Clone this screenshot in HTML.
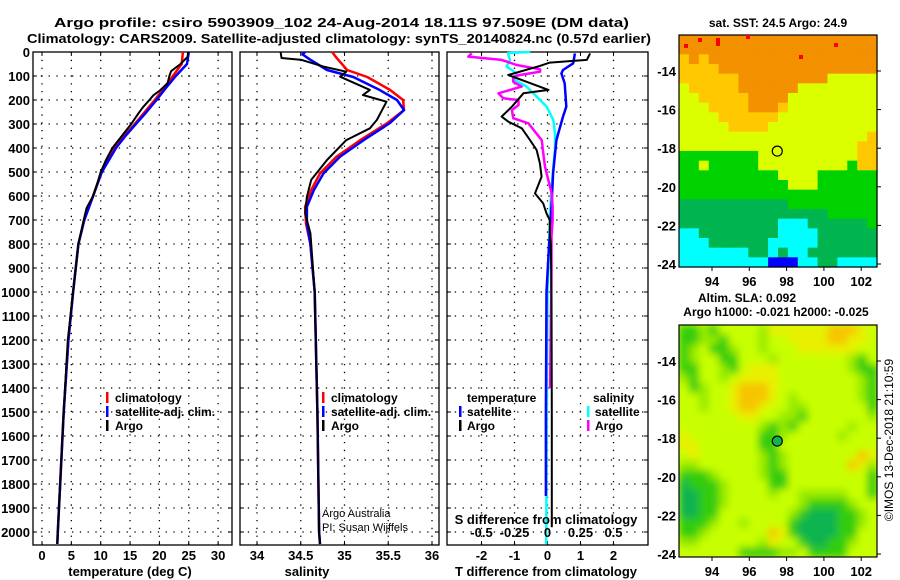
<!DOCTYPE html>
<html><head><meta charset="utf-8">
<style>
html,body{margin:0;padding:0;background:#fff;}
svg{display:block;font-family:"Liberation Sans",sans-serif;}
.b{font-weight:bold;font-size:13px;}
</style></head>
<body>
<svg id="chart" width="900" height="580" viewBox="0 0 900 580" xmlns="http://www.w3.org/2000/svg">
<defs>
<filter id="blur" x="-5%" y="-5%" width="110%" height="110%"><feGaussianBlur stdDeviation="4"/></filter>
<clipPath id="slaclip"><rect x="679" y="325" width="198" height="232"/></clipPath>
</defs>
<rect width="900" height="580" fill="#fff"/>
<text x="54" y="27" class="b" font-size="14" textLength="575" lengthAdjust="spacingAndGlyphs">Argo profile: csiro 5903909_102 24-Aug-2014 18.11S 97.509E (DM data)</text>
<text x="27" y="43" class="b" font-size="14" textLength="624" lengthAdjust="spacingAndGlyphs">Climatology: CARS2009. Satellite-adjusted climatology: synTS_20140824.nc (0.57d earlier)</text>
<g id="panels"></g>
<g id="maps"></g>
<text x="322" y="517" font-size="11">Argo Australia</text>
<text x="322" y="531" font-size="11">PI: Susan Wijffels</text>
<text transform="translate(893,440) rotate(-90)" text-anchor="middle" font-size="12">©IMOS 13-Dec-2018 21:10:59</text>
</svg>
<script>
// ---------- data ----------
const depthTicks=[0,100,200,300,400,500,600,700,800,900,1000,1100,1200,1300,1400,1500,1600,1700,1800,1900,2000];
const tempTicks=[0,5,10,15,20,25,30];
const salTicks=[34,34.5,35,35.5,36];
const salTickLabels=["34","34.5","35","35.5","36"];
const tdiffTicks=[-2,-1,0,1,2];
const sdiffTicks=[-0.5,-0.25,0,0.25,0.5];
const sdiffTickLabels=["-0.5","-0.25","0","0.25","0.5"];

const tClimDepth=[0,50,100,150,200,250,300,350,400,500,600,700,800,1000,1200,1500,2000,2050];
const tClimVal=[24.0,23.8,22.3,20.8,19.2,17.5,15.8,14.0,12.4,10.1,8.7,7.2,6.2,5.3,4.5,3.7,2.7,2.6];
const tSatDepth=[0,50,100,150,200,250,300,350,400,500,600,700,800,1000,1200,1500,2000,2050];
const tSatVal=[25.0,24.7,22.8,21.1,19.5,17.8,16.0,14.2,12.6,10.2,8.7,7.2,6.2,5.3,4.5,3.7,2.7,2.6];
const tArgoDepth=[0,20,50,80,100,130,160,180,200,230,260,300,350,400,450,500,550,600,650,700,800,1000,1200,1500,2000,2050];
const tArgoVal=[24.9,24.8,23.6,22.0,21.7,21.4,20.1,19.0,18.3,17.2,16.3,15.2,13.6,12.0,10.9,10.0,9.4,8.7,7.6,7.1,6.2,5.3,4.4,3.7,2.7,2.6];

const sClimDepth=[0,20,75,104,158,200,242,296,367,436,506,575,645,715,800,1000,1500,2000,2050];
const sClimVal=[34.86,34.9,35.03,35.26,35.52,35.67,35.68,35.49,35.18,34.91,34.72,34.62,34.55,34.56,34.61,34.66,34.69,34.71,34.72];
const sSatDepth=[0,10,30,75,104,158,200,242,296,367,436,506,575,645,715,800,1000,1500,2000,2050];
const sSatVal=[34.55,34.52,34.6,34.8,35.1,35.4,35.6,35.68,35.52,35.22,34.95,34.76,34.65,34.57,34.57,34.61,34.66,34.69,34.71,34.72];
const sArgoDepth=[0,25,33,61,82,103,158,179,207,283,318,367,450,533,603,672,755,800,1000,1500,2000,2050];
const sArgoVal=[34.27,34.28,34.51,34.76,35.02,34.95,35.29,35.21,35.48,35.37,35.29,35.02,34.80,34.62,34.57,34.55,34.61,34.62,34.66,34.69,34.71,34.72];

const dtSatDepth=[6,47,75,89,131,228,269,367,506,644,769,800,1000,1500,1850];
const dtSatVal=[0.83,0.78,0.47,0.42,0.52,0.57,0.47,0.27,0.17,0.12,0.07,0.05,-0.03,-0.05,-0.05];
const dtArgoDepth=[6,33,44,58,96,158,172,228,269,290,318,367,408,464,519,589,631,672,700,756,800,1000,1500,1980];
const dtArgoVal=[1.29,1.19,0.07,-0.23,-1.19,0.03,-0.73,-1.08,-1.39,-1.19,-0.78,-0.53,-0.33,-0.23,-0.18,-0.38,-0.13,-0.03,0.07,0.07,0.1,0.12,0.13,0.13];
const dsSatDepth=[0,4,33,61,89,117,144,186,228,283,339,408,478,561,672,769,1000,1500,2050];
const dsSatVal=[-0.13,-0.3,-0.284,-0.31,-0.233,-0.246,-0.158,-0.082,-0.006,0.044,0.057,0.057,0.044,0.032,0.019,0.014,0.0,-0.005,-0.01];
const dsArgoDepth=[6,19,33,54,72,82,89,96,103,124,144,172,193,200,221,242,276,297,332,367,422,478,533,589,644,700,769,900,1400];
const dsArgoVal=[-0.575,-0.6,-0.347,-0.233,-0.056,-0.056,-0.133,-0.21,-0.26,-0.26,-0.196,-0.372,-0.335,-0.22,-0.22,-0.27,-0.26,-0.145,-0.095,-0.044,-0.032,-0.019,0.006,0.032,0.039,0.039,0.03,0.03,0.02];

// maps
const lonTicks=[94,96,98,100,102];
const latTicks=[-14,-16,-18,-20,-22,-24];
const argoLon=97.5, argoLat=-18.15;
const sstGrid=[
"OOOOOOOOOOOOOOOOOOOO","OOOOOOOOOOOOOOOOOOOO","YOYOOOOOOOOOOOOOOOOO","YYYYOOOOOOOOOOOOOOOO",
"YYYYYYOOOOOOOOOLLLLL","LYYYYYOOOOOOLLLLLLLL","LLYYYYYOOOOLLLLLLLLL","LLLYYYYOOOYLLLLLLLLL",
"LLLLYYYYYYLLLLLLLLLL","LLLLLYYYYLLLLLLLLLLL","LLLLLLLLLLLLLLLLLLLY","LLLLLLLLLLLLLLLLLLYY",
"GGGGGGGGLLLLLLLLLLYY","GGLGGGGGLLLLLLLLLGYY","GGGGGGGGGGLLLLGGGGGG","GGGGGGGGGGGLLLGGGGGG",
"GGGGGGGGGGGGGGGGGGGG","DDDDDDDDDDDGGGGGGGGG","DDDDDDDDDDDDDDDGGGGG","DDDDDDDDDDCCCDDDDDDG",
"CCDDDDDDDDCCCCDDDDDD","CCCDDDDDDCCCCCDDDDDD","CCCCCCCDDCDCCDDDDDDD","CCCCCCCCCBBBCCDDCCCC"];
const slaGrid=[
"GGMGLLLLMYYYYYYOOOYL","GGMMGLLLMLLYYYYOOYYL","GMLGGMLLMLLLYYYYYYLL","GMLLGGLLLMLLLLLLLMGL",
"GGLLMGLYYYLLLLLLLMGG","MGLLMLYYYYLLLLLLLLMG","LGMLLYOOOYLLLLLLLLMG","LLMLLYOOOYLMLLLLLLMG",
"LLMLLYOOYLLMMLLLLLLG","LLLLLLYYLLMMGLLLLLLM","LLLLLLLLMGMGLLLLLMLL","YLLLLLLLGGMLLLLLMLLL",
"YYLLLLLLGGLLLLLLLLLL","LYLLLLLLMGMLLLLLLLOY","MMLLLLLLMGMLLLLLLOYM","GGGMLLLLMGGLLLLLLLLG",
"DGGGMLLLLGGLLLLLLLLG","DDGGMLLLLMLLMMMMMLLG","DDGGMLLLLLLLMGGGGMLL","DDGGLLLLLLLMGDDDGGML",
"GGGMLLMLLLLGDDDDGGML","GGMLLLLLLOYGDDDDGGLL","MMLLLLLLMYLLGDDGGMLL","LLLLLLGGGGMMLGGGGLLL"];

// ---------- drawing ----------
const NS="http://www.w3.org/2000/svg";
function mk(tag,attrs,parent){const e=document.createElementNS(NS,tag);for(const k in attrs)e.setAttribute(k,attrs[k]);parent.appendChild(e);return e;}
const panels=document.getElementById('panels');
const Y0=52,Y1=545;
const yD=d=>Y0+0.24*d;
const xT=t=>42+5.87*t;
const xS=s=>257+87.5*(s-34);
const xDT=t=>547.5+33*t;
const xDS=s=>547.5+132*s;

function frame(x0,x1,name){
  const g=mk('g',{},panels);
  
  
  depthTicks.forEach((d,i)=>{ if(i>0){const l=mk('line',{x1:x0,x2:x1,y1:yD(d),y2:yD(d),stroke:'#000','stroke-width':1.3,'stroke-dasharray':'1.3,6.5'},g);
    
    }
    mk('line',{x1:x0,x2:x0+4,y1:yD(d),y2:yD(d),stroke:'#000'},g);
    mk('line',{x1:x1-4,x2:x1,y1:yD(d),y2:yD(d),stroke:'#000'},g);
  });
  const r=mk('rect',{x:x0,y:Y0,width:x1-x0,height:Y1-Y0,fill:'none',stroke:'#000','stroke-width':1.3},g);
  
  
  return g;
}
function vgrid(g,xs){xs.forEach(x=>{
  const l=mk('line',{x1:x,x2:x,y1:Y0,y2:Y1,stroke:'#000','stroke-width':1.3,'stroke-dasharray':'1.3,6.5'},g);
  
  
  mk('line',{x1:x,x2:x,y1:Y0,y2:Y0+4,stroke:'#000'},g);
  mk('line',{x1:x,x2:x,y1:Y1-4,y2:Y1,stroke:'#000'},g);
});}
function line(g,xs,ds,xf,color,w,name){
  const p=xs.map((v,i)=>xf(v).toFixed(1)+','+yD(ds[i]).toFixed(1)).join(' ');
  const e=mk('polyline',{points:p,fill:'none',stroke:color,'stroke-width':w,'stroke-linejoin':'round'},g);
  
  
}
function txt(g,x,y,s,opts,name){
  const e=mk('text',Object.assign({x:x,y:y,'font-size':13,'font-weight':'bold'},opts||{}),g);
  e.textContent=s;
  
  
  return e;
}
function legBar(g,x,y,color,name){
  const e=mk('rect',{x:x,y:y-10,width:2.5,height:11,fill:color},g);
  
  
}

depthTicks.forEach(d=>txt(panels,30,yD(d)+5,String(d),{'text-anchor':'end'},'depth-tick-label'));

const g1=frame(33,232,'temperature-panel');
vgrid(g1,tempTicks.map(xT));
line(g1,tClimVal,tClimDepth,xT,'#ff0000',2.5,'temperature-climatology-line');
line(g1,tSatVal,tSatDepth,xT,'#0000ff',2.5,'temperature-satellite-line');
line(g1,tArgoVal,tArgoDepth,xT,'#000',2,'temperature-argo-line');
tempTicks.forEach(t=>txt(panels,xT(t),560,String(t),{'text-anchor':'middle'},'temperature-tick-label'));
txt(panels,130,576,'temperature (deg C)',{'text-anchor':'middle'},'temperature-axis-title');
legBar(g1,106,402,'#ff0000','legend-climatology-swatch');
txt(g1,115,402,'climatology',{'font-size':12},'legend-climatology');
legBar(g1,106,416,'#0000ff','legend-satellite-swatch');
txt(g1,115,416,'satellite-adj. clim.',{'font-size':12},'legend-satellite');
legBar(g1,106,430,'#000','legend-argo-swatch');
txt(g1,115,430,'Argo',{'font-size':12},'legend-argo');

const g2=frame(240,439,'salinity-panel');
vgrid(g2,salTicks.map(xS));
line(g2,sClimVal,sClimDepth,xS,'#ff0000',2.5,'salinity-climatology-line');
line(g2,sSatVal,sSatDepth,xS,'#0000ff',2.5,'salinity-satellite-line');
line(g2,sArgoVal,sArgoDepth,xS,'#000',2,'salinity-argo-line');
salTicks.forEach((s,i)=>txt(panels,xS(s),560,salTickLabels[i],{'text-anchor':'middle'},'salinity-tick-label'));
txt(panels,307,576,'salinity',{'text-anchor':'middle'},'salinity-axis-title');
legBar(g2,322,402,'#ff0000','legend-climatology-swatch');
txt(g2,331,402,'climatology',{'font-size':12},'legend-climatology');
legBar(g2,322,416,'#0000ff','legend-satellite-swatch');
txt(g2,331,416,'satellite-adj. clim.',{'font-size':12},'legend-satellite');
legBar(g2,322,430,'#000','legend-argo-swatch');
txt(g2,331,430,'Argo',{'font-size':12},'legend-argo');

const g3=frame(447,648,'difference-panel');
vgrid(g3,tdiffTicks.map(xDT));
line(g3,dsSatVal,dsSatDepth,xDS,'#00ffff',2.5,'salinity-diff-satellite-line');
line(g3,dtSatVal,dtSatDepth,xDT,'#0000ff',2.5,'temperature-diff-satellite-line');
line(g3,dsArgoVal,dsArgoDepth,xDS,'#ff00ff',2.5,'salinity-diff-argo-line');
line(g3,dtArgoVal,dtArgoDepth,xDT,'#000',2,'temperature-diff-argo-line');
tdiffTicks.forEach(t=>txt(panels,xDT(t),560,String(t),{'text-anchor':'middle'},'tdiff-tick-label'));
txt(panels,546,576,'T difference from climatology',{'text-anchor':'middle'},'tdiff-axis-title');
sdiffTicks.forEach((s,i)=>txt(g3,xDS(s),537,sdiffTickLabels[i],{'text-anchor':'middle'},'sdiff-tick-label'));
txt(g3,546,524,'S difference from climatology',{'text-anchor':'middle'},'sdiff-axis-title');
txt(g3,467,402,'temperature',{'font-size':12},'legend-temperature-heading');
legBar(g3,459,416,'#0000ff','legend-tsat-swatch');
txt(g3,467,416,'satellite',{'font-size':12},'legend-tsat');
legBar(g3,459,430,'#000','legend-targo-swatch');
txt(g3,467,430,'Argo',{'font-size':12},'legend-targo');
txt(g3,593,402,'salinity',{'font-size':12},'legend-salinity-heading');
legBar(g3,587,416,'#00ffff','legend-ssat-swatch');
txt(g3,595,416,'satellite',{'font-size':12},'legend-ssat');
legBar(g3,587,430,'#ff00ff','legend-sargo-swatch');
txt(g3,595,430,'Argo',{'font-size':12},'legend-sargo');

const maps=document.getElementById('maps');
const sstCol={O:'#f39100',Y:'#ffc800',L:'#dcff00',G:'#00d200',D:'#00b44f',C:'#00ffff',B:'#0000ff'};
const slaCol={O:'#f7c400',Y:'#e8f000',L:'#c8ff00',M:'#96ea00',G:'#30cc10',D:'#10b450'};
function drawMap(top,bottom,grid,cols,name,filledDot){
  const x0=679,x1=877;
  const g=mk('g',{},maps);
  
  
  let cells=g;
  if(filledDot){
    const clipG=mk('g',{'clip-path':'url(#slaclip)'},g);
    mk('rect',{x:x0,y:top,width:x1-x0,height:bottom-top,fill:'#c8ff00'},clipG);
    cells=mk('g',{filter:'url(#blur)'},clipG);
  }
  const nr=grid.length,nc=grid[0].length,cw=(x1-x0)/nc,ch=(bottom-top)/nr;
  grid.forEach((row,r)=>{for(let c=0;c<nc;c++){
    mk('rect',{x:(x0+c*cw).toFixed(2),y:(top+r*ch).toFixed(2),width:(cw+0.6).toFixed(2),height:(ch+0.6).toFixed(2),fill:cols[row[c]]},cells);
  }});
  const lx=lon=>x0+(lon-92.23)*18.65;
  const ly=lat=>top+36+(-14-lat)*((bottom-top-39)/10);
  lonTicks.forEach(l=>{mk('line',{x1:lx(l),x2:lx(l),y1:bottom,y2:bottom+4,stroke:'#000'},g);
    txt(maps,lx(l),bottom+19,String(l),{'text-anchor':'middle'},'longitude-tick-label');});
  latTicks.forEach(l=>{mk('line',{x1:x1,x2:x1+4,y1:ly(l),y2:ly(l),stroke:'#000'},g);
    txt(maps,676,ly(l)+5,String(l),{'text-anchor':'end'},'latitude-tick-label');});
  mk('rect',{x:x0,y:top,width:x1-x0,height:bottom-top,fill:'none',stroke:'#000','stroke-width':1.2},g);
  const c=mk('circle',{cx:lx(argoLon),cy:ly(argoLat),r:5,fill:filledDot?'#10b450':'none',stroke:'#000','stroke-width':1.2},g);
  
  
  return g;
}
const gm1=drawMap(35,267,sstGrid,sstCol,'sst-map',false);
[[684,44],[698,38],[716,38],[716,42],[834,43],[799,55],[746,35]].forEach(p=>mk('rect',{x:p[0],y:p[1],width:4,height:4,fill:'#ff0000'},gm1));
drawMap(325,557,slaGrid,slaCol,'sla-map',true);
txt(maps,778,27,'sat. SST: 24.5 Argo: 24.9',{'text-anchor':'middle','font-size':12},'sst-map-title');
txt(maps,747,302,'Altim. SLA: 0.092',{'text-anchor':'middle','font-size':12},'sla-map-title');
txt(maps,776,316,'Argo h1000: -0.021 h2000: -0.025',{'text-anchor':'middle','font-size':12},'sla-map-subtitle');
</script>
</body></html>
